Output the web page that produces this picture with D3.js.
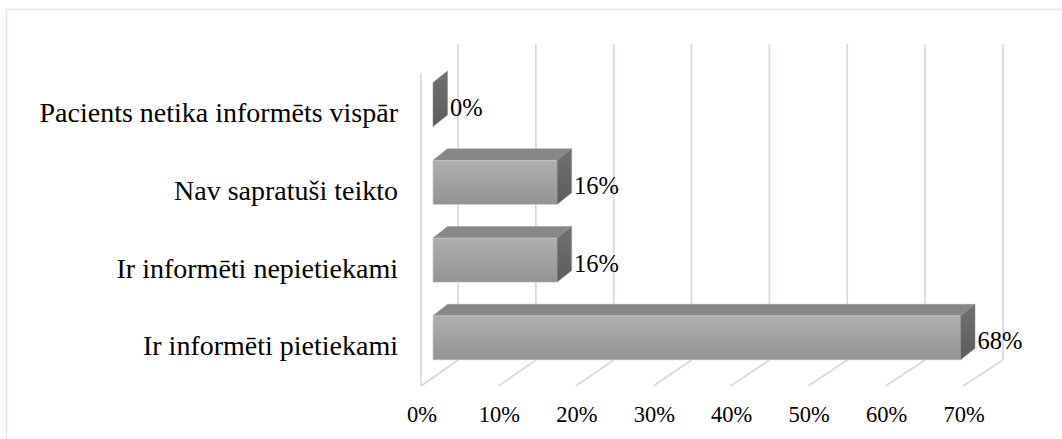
<!DOCTYPE html>
<html><head><meta charset="utf-8">
<script src="https://cdn.jsdelivr.net/npm/d3@7"></script>
<style>body{margin:0;background:#fff}svg{display:block}</style>
</head><body>
<svg id="c" width="1062" height="439"></svg>
<script>
const categories = ["Pacients netika informēts vispār","Nav sapratuši teikto","Ir informēti nepietiekami","Ir informēti pietiekami"];
const values = [0, 16, 16, 68];
const valueLabels = ["0%","16%","16%","68%"];
const ticks = [0,10,20,30,40,50,60,70];
const tickLabels = ["0%","10%","20%","30%","40%","50%","60%","70%"];

const svg = d3.select("#c");
const font = "'Liberation Serif','Times New Roman',serif";

// border
svg.append("rect").attr("x",6.5).attr("y",9.5).attr("width",1080).attr("height",460)
  .attr("fill","none").attr("stroke","#e1e4ea").attr("stroke-width",1.5);

const xFront = d3.scaleLinear().domain([0,70]).range([421,963]);
const xBack = d3.scaleLinear().domain([0,70]).range([458,1003]);
const xBar = d3.scaleLinear().domain([0,68]).range([433,960.5]);
const yBand = d3.scaleBand().domain(categories).range([59.2,383.2]).paddingInner(0.4344).paddingOuter(0.3);
const floorBack = 360, floorFront = 386, wallTop = 44;
const dx = 14.5, dy = -11.5;

const grid = svg.append("g").attr("stroke","#d6d9e5").attr("stroke-width",1.7).attr("fill","none");
ticks.forEach(t => {
  grid.append("line").attr("x1",xBack(t)).attr("x2",xBack(t)).attr("y1",wallTop).attr("y2",floorBack);
  grid.append("line").attr("x1",xBack(t)).attr("y1",floorBack).attr("x2",xFront(t)).attr("y2",floorFront);
});
grid.append("line").attr("x1",xFront(0)).attr("x2",xFront(0)).attr("y1",73).attr("y2",floorFront);

const defs = svg.append("defs");
const gF = defs.append("linearGradient").attr("id","gf").attr("x1",0).attr("y1",0).attr("x2",0).attr("y2",1);
gF.append("stop").attr("offset","0").attr("stop-color","#afafaf");
gF.append("stop").attr("offset","1").attr("stop-color","#939393");
const gS = defs.append("linearGradient").attr("id","gs").attr("x1",0).attr("y1",0).attr("x2",0).attr("y2",1);
gS.append("stop").attr("offset","0").attr("stop-color","#717171");
gS.append("stop").attr("offset","1").attr("stop-color","#5c5c5c");

const bars = svg.append("g");
categories.forEach((c,i) => {
  const v = values[i];
  const x0 = xBar(0), x1 = xBar(v), y0 = yBand(c), h = yBand.bandwidth(), y1 = y0 + h;
  const g = bars.append("g");
  if (v > 0) {
    g.append("path").attr("d",`M${x0},${y0}L${x0+dx},${y0+dy}L${x1+dx},${y0+dy}L${x1},${y0}Z`)
      .attr("fill","#878787").attr("stroke","#9a9a9a").attr("stroke-width",0.6);
    g.append("rect").attr("x",x0).attr("y",y0).attr("width",x1-x0).attr("height",h)
      .attr("fill","url(#gf)").attr("stroke","#c8c8c8").attr("stroke-width",0.6);
  }
  g.append("path").attr("d",`M${x1},${y0}L${x1+dx},${y0+dy}L${x1+dx},${y1+dy}L${x1},${y1}Z`)
    .attr("fill","url(#gs)").attr("stroke","#8a8a8a").attr("stroke-width",0.5);
  svg.append("text").attr("x",x1+dx+2.5).attr("y",y0+h/2+11.5)
    .attr("font-family",font).attr("font-size",24.5).attr("fill","#000").text(valueLabels[i]);
  svg.append("text").attr("x",398).attr("y",y0+h/2+17.5).attr("text-anchor","end")
    .attr("font-family",font).attr("font-size",28).attr("fill","#000").text(c);
});

ticks.forEach((t,i) => {
  svg.append("text").attr("x",xFront(t)+1).attr("y",422).attr("text-anchor","middle")
    .attr("font-family",font).attr("font-size",22.5).attr("fill","#000").text(tickLabels[i]);
});
</script>
</body></html>
